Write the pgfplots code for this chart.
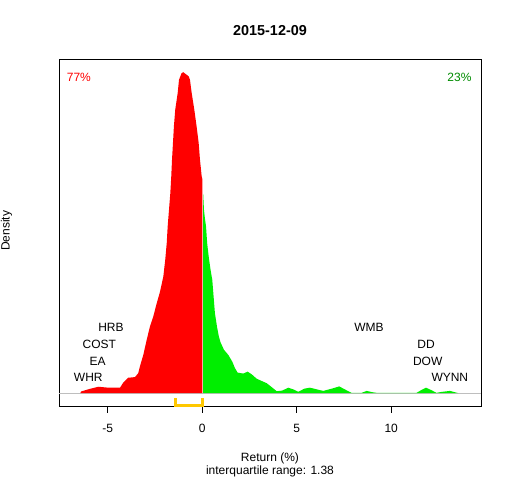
\documentclass[border=0pt]{standalone}
\usepackage{fontspec}
\setmainfont{Liberation Sans}
\usepackage{pgfplots}
\pgfplotsset{compat=1.18}
\definecolor{rfill}{HTML}{FF0000}
\definecolor{gfill}{HTML}{00EE00}
\definecolor{gtext}{HTML}{008B00}
\definecolor{iqr}{HTML}{FFC800}
\definecolor{baseg}{HTML}{BEBEBE}
\begin{document}
\fontsize{12bp}{14bp}\selectfont
\begin{tikzpicture}[x=1bp,y=1bp]
\path[use as bounding box] (0,0) rectangle (512,480);
\begin{axis}[
  at={(59bp,74bp)}, anchor=south west,
  scale only axis, width=422bp, height=346.7bp,
  xmin=-7.58, xmax=14.75, ymin=-0.04, ymax=1.04,
  clip=false,
  xtick={-5,0,5,10}, xticklabels={-5,0,5,10},
  ytick=\empty,
  tick align=outside, xtick pos=bottom,
  major tick length=7bp,
  axis line style={line width=0.8bp},
  every tick/.style={black, line width=0.8bp},
  xticklabel style={yshift=-7bp},
  /pgf/number format/assume math mode=true,
]
\addplot[baseg, line width=1bp] coordinates {(-7.58,0) (14.75,0)};
\addplot[fill=rfill, draw=none] coordinates {
(-6.45,0) (-6.42,0.005) (-6.03,0.012) (-5.50,0.020) (-4.97,0.017) (-4.35,0.017)
(-4.18,0.033) (-3.92,0.048) (-3.56,0.050) (-3.39,0.062) (-3.30,0.083) (-3.12,0.119)
(-2.94,0.166) (-2.77,0.207) (-2.59,0.239) (-2.41,0.280) (-2.24,0.315) (-2.06,0.363)
(-1.96,0.415) (-1.88,0.467) (-1.83,0.519) (-1.76,0.571) (-1.69,0.623) (-1.64,0.675)
(-1.60,0.727) (-1.55,0.779) (-1.50,0.831) (-1.43,0.883) (-1.30,0.935) (-1.23,0.976)
(-1.10,0.996) (-1.01,1.0) (-0.90,0.995) (-0.72,0.987) (-0.65,0.976) (-0.56,0.935)
(-0.42,0.883) (-0.30,0.831) (-0.19,0.779) (-0.12,0.727) (-0.03,0.675) (0,0.668) (0,0)
} \closedcycle;
\addplot[fill=gfill, draw=none] coordinates {
(0.05,0) (0.05,0.621) (0.09,0.571) (0.14,0.545) (0.20,0.519) (0.26,0.467) (0.35,0.421)
(0.44,0.384) (0.53,0.353) (0.60,0.301) (0.67,0.249) (0.78,0.207) (0.88,0.176)
(0.97,0.158) (1.15,0.135) (1.38,0.119) (1.59,0.098) (1.73,0.078) (1.87,0.064)
(2.17,0.061) (2.40,0.067) (2.61,0.059) (2.88,0.045) (3.14,0.038) (3.41,0.031)
(3.67,0.019) (3.94,0.006) (4.23,0.008) (4.55,0.017) (4.81,0.012) (5.08,0.004)
(5.40,0.014) (5.70,0.017) (6.05,0.012) (6.40,0.007) (6.85,0.014) (7.25,0.021)
(7.60,0.010) (7.90,0.001) (8.43,0.001) (8.70,0.007) (9.00,0.003) (9.23,0.001)
(11.34,0.001) (11.60,0.010) (11.84,0.017) (12.10,0.010) (12.40,0.001) (12.67,0.004)
(13.11,0.007) (13.55,0)
} \closedcycle;
\draw[iqr, line width=3bp] (axis cs:-1.44,-0.016) -- (axis cs:-1.44,-0.04) -- (axis cs:0,-0.04) -- (axis cs:0,-0.016);
\node at (axis cs:-4.83,0.206) {HRB};
\node at (axis cs:-5.45,0.153) {COST};
\node at (axis cs:-5.53,0.098) {EA};
\node at (axis cs:-6.03,0.049) {WHR};
\node at (axis cs:8.82,0.206) {WMB};
\node at (axis cs:11.84,0.153) {DD};
\node at (axis cs:11.93,0.098) {DOW};
\node at (axis cs:13.10,0.049) {WYNN};
\end{axis}
\node[font=\fontsize{14.4bp}{16bp}\selectfont\bfseries] at (270,449) {2015-12-09};
\node[rotate=90] at (6.5,249.2) {Density};
\node at (270,21.7) {Return (\%)};
\node at (270,8.3) {interquartile range: 1.38};
\node[anchor=west, inner sep=0pt, text=rfill] at (66.7,402.3) {77\%};
\node[anchor=east, inner sep=0pt, text=gtext] at (471.7,402.3) {23\%};
\end{tikzpicture}
\end{document}
